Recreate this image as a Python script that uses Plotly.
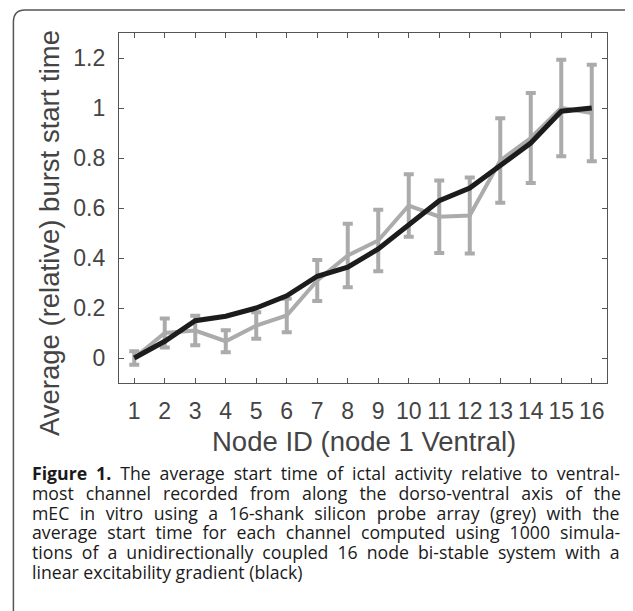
import plotly.graph_objects as go

nodes = list(range(1, 17))
grey_mean = [0.0, 0.10, 0.11, 0.067, 0.13, 0.17, 0.31, 0.41, 0.47, 0.61, 0.565, 0.57, 0.79, 0.88, 1.0, 0.98]
grey_err = [0.027, 0.058, 0.059, 0.044, 0.053, 0.067, 0.082, 0.127, 0.123, 0.125, 0.145, 0.152, 0.169, 0.18, 0.193, 0.193]
black_mean = [0.0, 0.067, 0.149, 0.167, 0.2, 0.249, 0.327, 0.363, 0.436, 0.533, 0.629, 0.68, 0.767, 0.86, 0.987, 1.0]
y_ticks = [0, 0.2, 0.4, 0.6, 0.8, 1.0, 1.2]
y_ticktext = ["0", "0.2", "0.4", "0.6", "0.8", "1", "1.2"]
x_title = "Node ID (node 1 Ventral)"
y_title = "Average (relative) burst start time"
caption_bold = "Figure 1."
caption_lines = [
    " The average start time of ictal activity relative to ventral-",
    "most channel recorded from along the dorso-ventral axis of the",
    "mEC in vitro using a 16-shank silicon probe array (grey) with the",
    "average start time for each channel computed using 1000 simula-",
    "tions of a unidirectionally coupled 16 node bi-stable system with a",
    "linear excitability gradient (black)",
]

# the page body has an 8px margin, so the figure is placed at (8, 8)
OFF = 8
W, H = 633 - OFF, 611 - OFF
PLOT_L, PLOT_R, PLOT_T, PLOT_B = 119, 607.5, 33, 383   # page pixels
ML, MT = PLOT_L - OFF, PLOT_T - OFF
MR, MB = 633 - PLOT_R, 611 - PLOT_B
PW, PH = PLOT_R - PLOT_L, PLOT_B - PLOT_T


def px(x):
    return (x - PLOT_L) / PW


def py(y):
    return (PLOT_B - y) / PH


# approximate Open Sans advance widths (em) used only to justify caption lines
OS_W = {" ": .260, "(": .296, ")": .296, ",": .245, "-": .322, ".": .266,
        "A": .633, "B": .648, "C": .631, "D": .729, "E": .556, "F": .516,
        "I": .279, "M": .907, "N": .764, "T": .556, "V": .600,
        "a": .556, "b": .613, "c": .479, "d": .613, "e": .561, "f": .336,
        "g": .546, "h": .613, "i": .258, "j": .258, "k": .529, "l": .258,
        "m": .929, "n": .613, "o": .601, "p": .613, "q": .613, "r": .408,
        "s": .477, "t": .352, "u": .613, "v": .500, "w": .801, "x": .500,
        "y": .500, "z": .469}
BOLD_W = {"F": .575, "i": .297, "g": .562, "u": .660, "r": .469, "e": .590,
          " ": .260, "1": .571, ".": .285}
CAP_FS = 17.7
CAP_BASE_FS = 15.2          # sets the line pitch (1.3 em)
CAP_LEFT, CAP_RIGHT = 31, 620


def text_w(s, table):
    return sum(table.get(c, .571) for c in s) * CAP_FS


html_lines = []
for i, line in enumerate(caption_lines):
    natural = text_w(line, OS_W)
    n_sp = line.strip().count(" ")
    if i == 0:
        natural += text_w(caption_bold, BOLD_W)
        n_sp += 2
    justify = i < len(caption_lines) - 1
    ws = (CAP_RIGHT - CAP_LEFT - natural) / n_sp if (justify and n_sp) else 0
    ws = max(min(ws, 10), -1.5)
    style = f"font-size:{CAP_FS}px;word-spacing:{ws:.2f}px"
    if i == 0:
        html_lines.append(f"<span style='{style}'><b>{caption_bold}</b>{line}</span>")
    else:
        html_lines.append(f"<span style='{style}'>{line}</span>")
caption_html = "<br>".join(html_lines)

fig = go.Figure()
fig.add_trace(go.Scatter(
    x=nodes, y=grey_mean, mode="lines",
    line=dict(color="#ababab", width=4),
    error_y=dict(type="data", array=grey_err, visible=True,
                 color="#ababab", thickness=4, width=5),
    showlegend=False, hoverinfo="skip"))
fig.add_trace(go.Scatter(
    x=nodes, y=black_mean, mode="lines",
    line=dict(color="#1c1c1c", width=5),
    showlegend=False, hoverinfo="skip"))

axis_common = dict(
    showline=True, linecolor="#555555", linewidth=1.3, mirror="ticks",
    ticks="inside", ticklen=5, tickwidth=1.3, tickcolor="#555555",
    showgrid=False, zeroline=False,
    tickfont=dict(family="Liberation Sans, Arial", size=23, color="#444444"),
)
fig.update_xaxes(range=[0.5, 16.5], tickvals=nodes, ticklabelstandoff=7, **axis_common)
fig.update_yaxes(range=[-0.1, 1.3], tickvals=y_ticks, ticktext=y_ticktext,
                 ticklabelstandoff=8, **axis_common)

annotations = [
    dict(text=x_title, x=px(364), y=py(441), xref="paper", yref="paper",
         showarrow=False, xanchor="center", yanchor="middle",
         font=dict(family="Liberation Sans, Arial", size=27.5, color="#444444")),
    dict(text=y_title, x=px(49), y=py(233), xref="paper", yref="paper",
         showarrow=False, xanchor="center", yanchor="middle", textangle=-90,
         font=dict(family="Liberation Sans, Arial", size=27.5, color="#444444")),
    dict(text=caption_html, x=px(CAP_LEFT - 1), y=py(459), xref="paper", yref="paper",
         showarrow=False, xanchor="left", yanchor="top", align="left",
         font=dict(family="Open Sans", size=CAP_BASE_FS, color="#1a1a1a")),
]

fig.update_layout(
    width=W, height=H,
    margin=dict(l=ML, r=MR, t=MT, b=MB, pad=0),
    paper_bgcolor="white", plot_bgcolor="white",
    annotations=annotations,
    shapes=[dict(
        type="path", xref="paper", yref="paper",
        path=(f"M {px(13.3)},{py(615)} L {px(13.3)},{py(22)} "
              f"Q {px(13.3)},{py(10)} {px(25)},{py(10)} "
              f"L {px(627)},{py(10)} Q {px(632)},{py(10)} {px(634)},{py(14)}"),
        line=dict(color="#555555", width=1.5))],
)

fig.write_html("out.html")
